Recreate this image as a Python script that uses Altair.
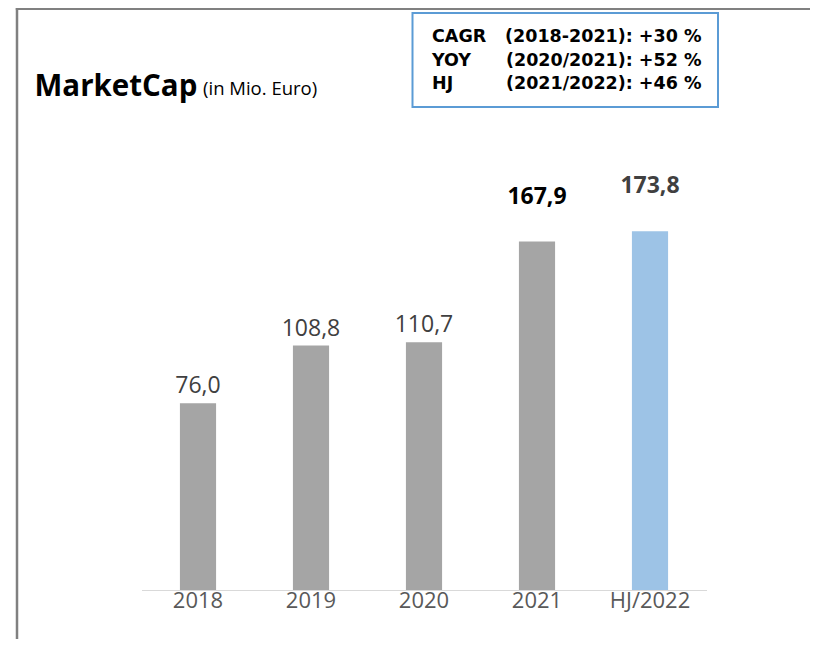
import altair as alt
import pandas as pd

categories = ["2018", "2019", "2020", "2021", "HJ/2022"]
values = [76.0, 108.8, 110.7, 167.9, 173.8]
bar_colors = ["#A5A5A5", "#A5A5A5", "#A5A5A5", "#A5A5A5", "#9DC3E6"]
label_bold = [False, False, False, True, True]
label_colors = ["#404040", "#404040", "#404040", "#000000", "#404040"]
value_labels = [f"{v:.1f}".replace(".", ",") for v in values]

box_labels = ["CAGR", "YOY", "HJ"]
box_periods = ["(2018-2021): +30 %", "(2020/2021): +52 %", "(2021/2022): +46 %"]

df = pd.DataFrame({
    "category": categories,
    "value": values,
    "bar_color": bar_colors,
    "bold": label_bold,
    "label_color": label_colors,
    "label": value_labels,
})

FONT = "Open Sans"
BOX_FONT = "DejaVu Sans"
W, H = 565, 405
PAD = {"left": 133.5, "top": 177, "right": 103.5, "bottom": 49}

x = alt.X(
    "category:N",
    sort=categories,
    scale=alt.Scale(paddingInner=0.68, paddingOuter=0.34),
    axis=alt.Axis(
        title=None, labelAngle=0, ticks=False, labelFontSize=22, labelFont=FONT,
        labelColor="#595959", domainColor="#D9D9D9", domainWidth=1.2, labelPadding=0,
    ),
)
y = alt.Y("value:Q", scale=alt.Scale(domain=[-30, 200]), axis=None)

base = alt.Chart(df)
bars = base.mark_bar().encode(
    x=x, y=y, y2=alt.datum(-30), color=alt.Color("bar_color:N", scale=None)
)
labels_regular = base.transform_filter("!datum.bold").mark_text(
    baseline="bottom", dy=-5, fontSize=23, font=FONT
).encode(x=x, y=y, text="label:N", color=alt.Color("label_color:N", scale=None))
labels_bold = base.transform_filter("datum.bold").mark_text(
    baseline="bottom", dy=-33, fontSize=23, font=FONT, fontWeight="bold"
).encode(x=x, y=y, text="label:N", color=alt.Color("label_color:N", scale=None))

one = alt.Data(values=[{}])

frame_left = alt.Chart(one).mark_rule(color="#808080", strokeWidth=2.5).encode(
    x=alt.value(-124.5), y=alt.value(-177), y2=alt.value(460)
)
frame_top = alt.Chart(one).mark_rule(color="#808080", strokeWidth=3).encode(
    x=alt.value(-125.7), x2=alt.value(680), y=alt.value(-176.5)
)
box = alt.Chart(one).mark_rect(fill="white", stroke="#5B9BD5", strokeWidth=2).encode(
    x=alt.value(271), x2=alt.value(576.5), y=alt.value(-172), y2=alt.value(-78)
)

layers = [frame_left, frame_top, box]
line_y = [-148, -124.5, -101]
for lab, per, yy in zip(box_labels, box_periods, line_y):
    layers.append(alt.Chart(one).mark_text(
        text=lab, align="left", baseline="middle", fontSize=17.5, fontWeight="bold",
        font=BOX_FONT, color="#000000"
    ).encode(x=alt.value(290.5), y=alt.value(yy)))
    layers.append(alt.Chart(one).mark_text(
        text=per, align="right", baseline="middle", fontSize=17.5, fontWeight="bold",
        font=BOX_FONT, color="#000000"
    ).encode(x=alt.value(560), y=alt.value(yy)))

title_main = alt.Chart(one).mark_text(
    text="MarketCap", align="left", baseline="alphabetic", fontSize=29.5,
    fontWeight="bold", font=FONT, color="#000000"
).encode(x=alt.value(-107), y=alt.value(-89))
title_sub = alt.Chart(one).mark_text(
    text="(in Mio. Euro)", align="left", baseline="alphabetic", fontSize=18.5,
    font=FONT, color="#000000"
).encode(x=alt.value(61.5), y=alt.value(-90))

chart = alt.layer(
    *layers, title_main, title_sub, bars, labels_regular, labels_bold
).properties(
    width=W, height=H, padding=PAD, autosize=alt.AutoSizeParams(type="none"),
    background="white",
).configure_view(stroke=None)

chart.save("out.html", embed_options={"renderer": "svg", "actions": False})
